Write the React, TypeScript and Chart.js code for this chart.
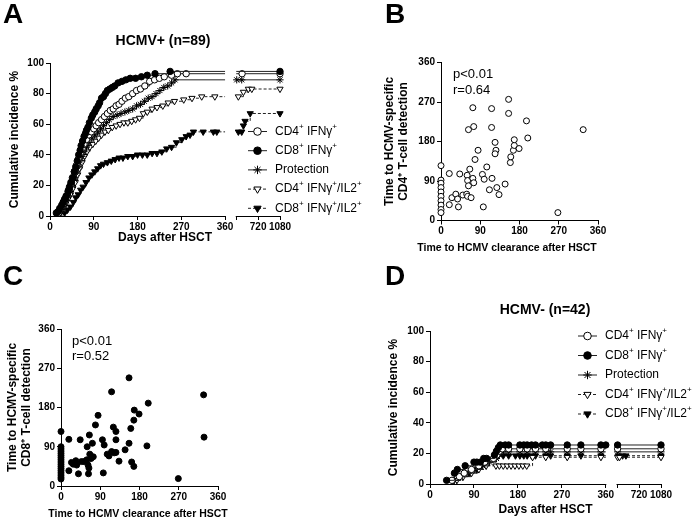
import React, { useEffect, useRef } from 'react';
import { Chart, registerables } from 'chart.js';
import { drawPoint } from 'chart.js/helpers';

Chart.register(...registerables);

const FONT = '"Liberation Sans", Arial, Helvetica, sans-serif';

// ===== Panel A: HCMV+ (n=89) — cumulative incidence (%) by days after HSCT =====
const A_CD4_DAYS = [18, 22, 26, 30, 34, 38, 42, 46, 50, 54, 58, 62, 66, 70, 75, 80, 85, 90, 95, 100, 106, 112, 118, 124, 130, 136, 142, 148, 155, 162, 170, 178, 186, 195, 205, 215, 225, 235, 250, 262, 280, 456, 1080];
const A_CD4_PCT = [2, 5, 7, 10, 13, 17, 20, 25, 29, 33, 37, 41, 44, 47, 50, 53, 55, 57, 59, 61, 63, 65, 67, 69, 70, 72, 73, 75, 77, 78, 80, 82, 83, 85, 88, 89, 90, 91, 92, 93, 93, 93, 93];

const A_CD8_DAYS = [13, 17, 20, 24, 27, 30, 33, 37, 40, 43, 47, 50, 53, 56, 59, 62, 64, 67, 70, 73, 75, 78, 81, 85, 88, 92, 95, 99, 102, 106, 110, 114, 118, 123, 128, 133, 140, 148, 156, 165, 176, 188, 200, 216, 247, 1080];
const A_CD8_PCT = [2, 3, 5, 7, 9, 11, 13, 16, 19, 22, 25, 29, 32, 36, 40, 43, 46, 49, 52, 54, 56, 58, 61, 64, 66, 68, 70, 72, 74, 77, 78, 80, 82, 83, 84, 85, 87, 88, 89, 90, 90, 91, 92, 93, 94.5, 94.5];

const A_PROT_DAYS = [20, 25, 30, 34, 38, 42, 46, 50, 54, 58, 62, 66, 70, 75, 80, 86, 92, 98, 104, 110, 116, 122, 130, 138, 146, 154, 162, 170, 178, 186, 194, 202, 210, 218, 226, 234, 242, 250, 257, 368, 450, 1080];
const A_PROT_PCT = [2, 4, 7, 10, 13, 16, 20, 24, 28, 32, 36, 39, 42, 45, 48, 51, 53, 55, 57, 59, 61, 63, 65, 66, 67, 68, 69, 70, 72, 73, 75, 77, 78, 80, 82, 84, 85, 87, 89, 89, 89, 89];

const A_CD4IL2_DAYS = [22, 27, 32, 37, 42, 47, 52, 57, 61, 66, 71, 76, 82, 88, 94, 100, 106, 113, 120, 128, 136, 144, 152, 160, 168, 176, 184, 192, 200, 210, 220, 232, 243, 256, 275, 292, 312, 339, 395, 478, 560, 616, 1080];
const A_CD4IL2_PCT = [2, 5, 8, 11, 14, 18, 22, 27, 31, 35, 39, 42, 45, 47, 49, 51, 53, 55, 56, 58, 59, 60, 61, 61, 62, 63, 64, 67, 68, 70, 71, 72, 74, 75, 76, 77, 78, 78, 78, 81, 83, 83, 83];

const A_CD8IL2_DAYS = [30, 36, 42, 48, 53, 58, 63, 68, 74, 80, 86, 92, 98, 104, 110, 118, 126, 134, 142, 150, 160, 170, 180, 190, 200, 210, 220, 230, 240, 250, 260, 271, 280, 288, 295, 315, 336, 343, 395, 450, 478, 505, 590, 1080];
const A_CD8IL2_PCT = [2, 4, 6, 9, 12, 14, 17, 19, 22, 25, 27, 29, 31, 33, 34, 35, 36, 37, 38, 38, 39, 39, 40, 40, 40, 41, 41, 42, 44, 45, 48, 50, 52, 53, 55, 55, 55, 55, 55, 55, 59, 62, 67, 67];

// ===== Panel D: HCMV- (n=42) =====
const D_CD4_DAYS = [45, 60, 70, 85, 100, 112, 130, 137, 142, 148, 161, 184, 199, 216, 237, 281, 309, 350, 369, 1080];
const D_CD4_PCT = [2.4, 4.8, 7.1, 9.5, 11.9, 14.3, 16.7, 19, 21.4, 23, 23, 23, 23, 23, 23, 23, 23, 23, 23, 23];

const D_CD8_DAYS = [34, 50, 56, 72, 90, 96, 103, 110, 116, 132, 136, 140, 144, 154, 161, 184, 192, 199, 208, 216, 230, 237, 247, 281, 309, 350, 360, 369, 1080];
const D_CD8_PCT = [2.4, 7.1, 9.5, 11.9, 14.3, 14.3, 14.3, 16.7, 16.7, 19, 21.4, 23.8, 25.5, 25.5, 25.5, 25.5, 25.5, 25.5, 25.5, 25.5, 25.5, 25.5, 25.5, 25.5, 25.5, 25.5, 25.5, 25.5, 25.5];

const D_PROT_DAYS = [50, 62, 78, 92, 108, 122, 136, 142, 150, 161, 184, 199, 216, 237, 247, 281, 309, 350, 369, 1080];
const D_PROT_PCT = [2.4, 4.8, 7.1, 9.5, 11.9, 14.3, 16.7, 19, 21, 21, 21, 21, 21, 21, 21, 21, 21, 21, 21, 21];

const D_CD4IL2_DAYS = [55, 68, 85, 100, 115, 135, 142, 150, 158, 166, 174, 182, 190, 198, 210, 237, 281, 350, 369, 400, 1080];
const D_CD4IL2_PCT = [2.4, 4.8, 7.1, 9.5, 11.9, 11.9, 11.9, 11.9, 11.9, 11.9, 11.9, 11.9, 11.9, 11.9, 17.5, 17.5, 17.5, 17.5, 17.5, 17.5, 17.5];

const D_CD8IL2_DAYS = [48, 62, 80, 96, 104, 112, 134, 140, 150, 161, 175, 184, 192, 199, 208, 216, 237, 247, 281, 309, 350, 384, 451, 505, 1080];
const D_CD8IL2_PCT = [2.4, 4.8, 7.1, 9.5, 11.9, 14.3, 16.7, 18.5, 18.5, 18.5, 18.5, 18.5, 18.5, 18.5, 18.5, 18.5, 18.5, 18.5, 18.5, 18.5, 18.5, 18.5, 18.5, 18.5, 18.5];

// ===== Panel B: clearance day vs CD4+ detection day =====
const B_CLEAR = [0, 0, 0, 0, 0, 0, 0, 0, 0, 0, 19, 19, 25, 34, 38, 40, 43, 50, 59, 60, 61, 63, 66, 61, 69, 73, 75, 63, 75, 73, 78, 85, 97, 95, 99, 105, 111, 117, 116, 116, 124, 126, 124, 128, 133, 147, 155, 155, 159, 160, 166, 168, 168, 179, 196, 199, 268, 326];
const B_CD4 = [125, 92, 85, 75, 65, 55, 45, 35, 25, 18, 107, 36, 52, 60, 49, 31, 106, 58, 60, 103, 91, 79, 117, 55, 52, 96, 86, 207, 214, 257, 139, 160, 31, 105, 94, 122, 70, 96, 255, 212, 178, 160, 152, 75, 59, 83, 276, 244, 132, 145, 160, 171, 184, 164, 227, 188, 18, 207];

// ===== Panel C: clearance day vs CD8+ detection day =====
const C_CLEAR = [0, 0, 0, 0, 0, 0, 0, 0, 0, 0, 0, 0, 0, 0, 0, 0, 0, 18, 18, 24, 28, 34, 36, 40, 44, 47, 53, 59, 60, 62, 63, 65, 66, 69, 72, 74, 64, 79, 85, 97, 95, 99, 106, 110, 116, 122, 126, 116, 120, 126, 126, 133, 147, 156, 156, 160, 162, 167, 167, 168, 179, 197, 200, 269, 327, 328];
const C_CD8 = [125, 90, 85, 80, 75, 70, 65, 60, 55, 50, 45, 40, 35, 30, 25, 20, 16, 107, 35, 54, 50, 58, 48, 28, 106, 56, 56, 60, 90, 48, 28, 117, 73, 63, 98, 67, 41, 140, 162, 30, 106, 94, 73, 69, 79, 76, 77, 216, 135, 125, 106, 57, 83, 98, 248, 132, 55, 45, 151, 174, 165, 92, 190, 17, 209, 112];

const KM_TICK_DAYS = [0, 90, 180, 270, 360, 720, 1080];
const PCT_MAX = 100;
const PCT_STEP = 20;
const SC_MAX = 360;
const SC_STEP = 90;

// broken day axis: 0–360 linear, then compressed 360–1080 segment
const SEG2_START = 383;
const SEG2_END = 473;
const toAxis = (d: number) => (d <= 360 ? d : SEG2_START + ((d - 360) * (SEG2_END - SEG2_START)) / 720);
const KM_TICK_VALUES = [0, 90, 180, 270, 360, SEG2_START, toAxis(720), toAxis(1080)];
const KM_LABELS = new Map<number, string>();
KM_TICK_DAYS.forEach((d) => KM_LABELS.set(toAxis(d), String(d)));

type Seg = [string, boolean];
const LEGEND_TEXT: Seg[][] = [
  [['CD4', false], ['+', true], [' IFNγ', false], ['+', true]],
  [['CD8', false], ['+', true], [' IFNγ', false], ['+', true]],
  [['Protection', false]],
  [['CD4', false], ['+', true], [' IFNγ', false], ['+', true], ['/IL2', false], ['+', true]],
  [['CD8', false], ['+', true], [' IFNγ', false], ['+', true], ['/IL2', false], ['+', true]],
];

const STYLES = [
  { pointStyle: 'circle', bg: '#fff', dash: [], rot: 0, r: 3.2, order: 1 },
  { pointStyle: 'circle', bg: '#000', dash: [], rot: 0, r: 3.2, order: 0 },
  { pointStyle: 'star', bg: '#000', dash: [], rot: 0, r: 3.6, order: 2 },
  { pointStyle: 'triangle', bg: '#fff', dash: [3, 2], rot: 180, r: 3.6, order: 3 },
  { pointStyle: 'triangle', bg: '#000', dash: [3, 2], rot: 180, r: 3.6, order: 4 },
];

function kmPoints(days: number[], pcts: number[]) {
  const pts: any[] = [];
  let broken = false;
  let last = 0;
  for (let i = 0; i < days.length; i++) {
    const d = days[i];
    if (d > 360 && !broken) {
      pts.push({ x: 360, y: last, m: false });
      pts.push({ x: (360 + SEG2_START) / 2, y: null, m: false });
      pts.push({ x: SEG2_START, y: last, m: false });
      broken = true;
    }
    pts.push({ x: toAxis(d), y: pcts[i], m: true });
    last = pcts[i];
  }
  return pts;
}

function kmDataset(days: number[], pcts: number[], k: number) {
  const s = STYLES[k];
  return {
    type: 'line',
    order: s.order,
    data: kmPoints(days, pcts),
    borderColor: '#222',
    borderWidth: 1,
    borderDash: s.dash,
    stepped: 'before',
    spanGaps: false,
    fill: false,
    clip: false,
    pointStyle: s.pointStyle,
    pointRotation: s.rot,
    pointRadius: (c: any) => (c.raw && c.raw.m ? s.r : 0),
    pointHoverRadius: 0,
    pointBackgroundColor: s.bg,
    pointBorderColor: '#000',
    pointBorderWidth: 1,
  };
}

const zeroPad = (s: any) => {
  s.paddingLeft = 0;
  s.paddingRight = 0;
  s.paddingTop = 0;
  s.paddingBottom = 0;
};

const tickFont = { family: FONT, size: 10, weight: 'bold' as const };
const gridOpts = { display: true, drawOnChartArea: false, drawTicks: true, tickLength: 4, color: '#000', lineWidth: 1 };

function drawRich(ctx: CanvasRenderingContext2D, segs: Seg[], x: number, y: number) {
  let cx = x;
  ctx.textAlign = 'left';
  ctx.textBaseline = 'middle';
  ctx.fillStyle = '#000';
  for (const [t, sup] of segs) {
    ctx.font = sup ? `8px ${FONT}` : `12px ${FONT}`;
    ctx.fillText(t, cx, sup ? y - 5 : y);
    cx += ctx.measureText(t).width;
  }
}

type Decor = {
  letter: string;
  letterX: number;
  letterY: number;
  title?: string;
  titleX?: number;
  titleY?: number;
  xTitle?: { text: string; x: number; y: number; size: number };
  legend?: { x0: number; x1: number; xm: number; tx: number; y0: number; dy: number };
  notes?: { text: string; x: number; y: number }[];
  broken?: boolean;
};

function decorPlugin(d: Decor) {
  return {
    id: 'decor' + d.letter,
    afterDraw(chart: any) {
      const ctx: CanvasRenderingContext2D = chart.ctx;
      ctx.save();
      ctx.fillStyle = '#000';
      ctx.textAlign = 'left';
      ctx.textBaseline = 'alphabetic';
      ctx.font = `bold 28px ${FONT}`;
      ctx.fillText(d.letter, d.letterX, d.letterY);
      if (d.title) {
        ctx.font = `bold 14px ${FONT}`;
        ctx.textAlign = 'center';
        ctx.textBaseline = 'middle';
        ctx.fillText(d.title, d.titleX!, d.titleY!);
      }
      if (d.xTitle) {
        ctx.font = `bold ${d.xTitle.size}px ${FONT}`;
        ctx.textAlign = 'center';
        ctx.textBaseline = 'middle';
        ctx.fillText(d.xTitle.text, d.xTitle.x, d.xTitle.y);
      }
      if (d.notes) {
        ctx.font = `13px ${FONT}`;
        ctx.textAlign = 'left';
        ctx.textBaseline = 'middle';
        d.notes.forEach((n) => ctx.fillText(n.text, n.x, n.y));
      }
      if (d.broken) {
        const xs = chart.scales.x;
        const y = Math.round(chart.scales.y.getPixelForValue(0)) + 0.5;
        ctx.strokeStyle = '#000';
        ctx.lineWidth = 1;
        ctx.setLineDash([]);
        ctx.beginPath();
        ctx.moveTo(xs.getPixelForValue(0) - 0.5, y);
        ctx.lineTo(xs.getPixelForValue(360) + 0.5, y);
        ctx.moveTo(xs.getPixelForValue(SEG2_START) - 0.5, y);
        ctx.lineTo(xs.getPixelForValue(SEG2_END) + 0.5, y);
        ctx.stroke();
      }
      if (d.legend) {
        const L = d.legend;
        chart.data.datasets.forEach((ds: any, i: number) => {
          const y = L.y0 + i * L.dy;
          const s = STYLES[i];
          ctx.strokeStyle = '#222';
          ctx.lineWidth = 1;
          ctx.setLineDash(s.dash);
          ctx.beginPath();
          ctx.moveTo(L.x0, y);
          ctx.lineTo(L.x1, y);
          ctx.stroke();
          ctx.setLineDash([]);
          ctx.fillStyle = s.bg;
          ctx.strokeStyle = '#000';
          ctx.lineWidth = 1;
          drawPoint(ctx, { pointStyle: s.pointStyle as any, rotation: s.rot, radius: s.r + 0.6, borderWidth: 1 }, L.xm, y);
          drawRich(ctx, LEGEND_TEXT[i], L.tx, y);
        });
      }
      ctx.restore();
    },
  };
}

function kmConfig(
  sets: [number[], number[]][],
  pad: any,
  yW: number,
  xH: number,
  yTitlePad: number,
  xTitlePad: number,
  decor: Decor
) {
  return {
    type: 'line',
    data: { datasets: sets.map(([dd, pp], k) => kmDataset(dd, pp, k)) },
    options: {
      responsive: false,
      animation: false,
      devicePixelRatio: 1,
      events: [],
      layout: { padding: pad },
      plugins: { legend: { display: false }, tooltip: { enabled: false }, title: { display: false } },
      scales: {
        x: {
          type: 'linear',
          min: 0,
          max: SEG2_END,
          afterBuildTicks: (s: any) => {
            s.ticks = KM_TICK_VALUES.map((v) => ({ value: v }));
          },
          afterFit: (s: any) => {
            s.height = xH;
            zeroPad(s);
          },
          ticks: {
            autoSkip: false,
            maxRotation: 0,
            minRotation: 0,
            color: '#000',
            font: tickFont,
            padding: 1,
            callback: (v: number) => KM_LABELS.get(v) ?? '',
          },
          grid: gridOpts,
          border: { display: false },
          title: {
            display: true,
            text: 'Days after HSCT',
            color: '#000',
            font: { family: FONT, size: 12, weight: 'bold' },
            padding: { top: 0, bottom: xTitlePad },
          },
        },
        y: {
          type: 'linear',
          min: 0,
          max: PCT_MAX,
          afterFit: (s: any) => {
            s.width = yW;
            zeroPad(s);
          },
          ticks: { stepSize: PCT_STEP, color: '#000', font: tickFont, padding: 2 },
          grid: gridOpts,
          border: { display: true, color: '#000', width: 1 },
          title: {
            display: true,
            text: 'Cumulative incidence %',
            color: '#000',
            font: { family: FONT, size: 12, weight: 'bold' },
            padding: { top: yTitlePad, bottom: 0 },
          },
        },
      },
    },
    plugins: [decorPlugin(decor)],
  };
}

function scatterConfig(
  xs: number[],
  ys: number[],
  filled: boolean,
  yTitle: string[],
  pad: any,
  yW: number,
  xH: number,
  yTitlePad: number,
  decor: Decor
) {
  return {
    type: 'scatter',
    data: {
      datasets: [
        {
          data: xs.map((x, i) => ({ x, y: ys[i] })),
          pointStyle: 'circle',
          pointRadius: 3,
          pointHoverRadius: 3,
          pointBackgroundColor: filled ? '#000' : '#fff',
          pointBorderColor: '#000',
          pointBorderWidth: 1,
          clip: false,
        },
      ],
    },
    options: {
      responsive: false,
      animation: false,
      devicePixelRatio: 1,
      events: [],
      layout: { padding: pad },
      plugins: { legend: { display: false }, tooltip: { enabled: false }, title: { display: false } },
      scales: {
        x: {
          type: 'linear',
          min: 0,
          max: SC_MAX,
          afterFit: (s: any) => {
            s.height = xH;
            zeroPad(s);
          },
          ticks: { stepSize: SC_STEP, autoSkip: false, maxRotation: 0, color: '#000', font: tickFont, padding: 1 },
          grid: gridOpts,
          border: { display: true, color: '#000', width: 1 },
          title: { display: false },
        },
        y: {
          type: 'linear',
          min: 0,
          max: SC_MAX,
          afterFit: (s: any) => {
            s.width = yW;
            zeroPad(s);
          },
          ticks: { stepSize: SC_STEP, color: '#000', font: tickFont, padding: 2 },
          grid: gridOpts,
          border: { display: true, color: '#000', width: 1 },
          title: {
            display: true,
            text: yTitle,
            color: '#000',
            font: { family: FONT, size: 12, weight: 'bold', lineHeight: 1.1 },
            padding: { top: yTitlePad, bottom: 0 },
          },
        },
      },
    },
    plugins: [decorPlugin(decor)],
  };
}

const X_TITLE_SCATTER = 'Time to HCMV clearance after HSCT';

export default function App() {
  const refA = useRef<HTMLCanvasElement>(null);
  const refB = useRef<HTMLCanvasElement>(null);
  const refC = useRef<HTMLCanvasElement>(null);
  const refD = useRef<HTMLCanvasElement>(null);

  useEffect(() => {
    const charts: Chart[] = [];
    charts.push(
      new Chart(
        refA.current!,
        kmConfig(
          [
            [A_CD4_DAYS, A_CD4_PCT],
            [A_CD8_DAYS, A_CD8_PCT],
            [A_PROT_DAYS, A_PROT_PCT],
            [A_CD4IL2_DAYS, A_CD4IL2_PCT],
            [A_CD8IL2_DAYS, A_CD8IL2_PCT],
          ],
          { left: 0, top: 63, right: 420, bottom: 277 },
          50,
          30,
          7.8,
          0.8,
          {
            letter: 'A',
            letterX: 3,
            letterY: 23,
            title: 'HCMV+ (n=89)',
            titleX: 163,
            titleY: 41.5,
            legend: { x0: 248, x1: 267, xm: 257.5, tx: 275, y0: 131.5, dy: 19.2 },
            broken: true,
          }
        ) as any
      )
    );
    charts.push(
      new Chart(
        refB.current!,
        scatterConfig(
          B_CLEAR,
          B_CD4,
          false,
          ['Time to HCMV-specific', 'CD4⁺ T-cell detection'],
          { left: 381, top: 62.5, right: 102, bottom: 267.5 },
          60,
          35,
          2.4,
          {
            letter: 'B',
            letterX: 385,
            letterY: 23,
            xTitle: { text: X_TITLE_SCATTER, x: 507, y: 248.5, size: 10.5 },
            notes: [
              { text: 'p<0.01', x: 453, y: 74 },
              { text: 'r=0.64', x: 453, y: 90 },
            ],
          }
        ) as any
      )
    );
    charts.push(
      new Chart(
        refC.current!,
        scatterConfig(
          C_CLEAR,
          C_CD8,
          true,
          ['Time to HCMV-specific', 'CD8⁺ T-cell detection'],
          { left: 0, top: 329, right: 482, bottom: 0 },
          61,
          37,
          6.4,
          {
            letter: 'C',
            letterX: 3,
            letterY: 285,
            xTitle: { text: X_TITLE_SCATTER, x: 138, y: 514, size: 10.5 },
            notes: [
              { text: 'p<0.01', x: 72, y: 341 },
              { text: 'r=0.52', x: 72, y: 356 },
            ],
          }
        ) as any
      )
    );
    charts.push(
      new Chart(
        refD.current!,
        kmConfig(
          [
            [D_CD4_DAYS, D_CD4_PCT],
            [D_CD8_DAYS, D_CD8_PCT],
            [D_PROT_DAYS, D_PROT_PCT],
            [D_CD4IL2_DAYS, D_CD4IL2_PCT],
            [D_CD8IL2_DAYS, D_CD8IL2_PCT],
          ],
          { left: 380, top: 331, right: 39, bottom: 5 },
          50,
          34,
          6.1,
          0.8,
          {
            letter: 'D',
            letterX: 385,
            letterY: 285,
            title: 'HCMV- (n=42)',
            titleX: 545,
            titleY: 310.5,
            legend: { x0: 578, x1: 597, xm: 587.5, tx: 605, y0: 336, dy: 19.5 },
            broken: true,
          }
        ) as any
      )
    );
    return () => charts.forEach((c) => c.destroy());
  }, []);

  const cs: React.CSSProperties = { position: 'absolute', left: 0, top: 0, width: 700, height: 523 };
  return (
    <div style={{ position: 'fixed', left: 0, top: 0, width: 700, height: 523, background: '#fff', overflow: 'hidden' }}>
      <canvas ref={refA} width={700} height={523} style={cs} />
      <canvas ref={refB} width={700} height={523} style={cs} />
      <canvas ref={refC} width={700} height={523} style={cs} />
      <canvas ref={refD} width={700} height={523} style={cs} />
    </div>
  );
}
